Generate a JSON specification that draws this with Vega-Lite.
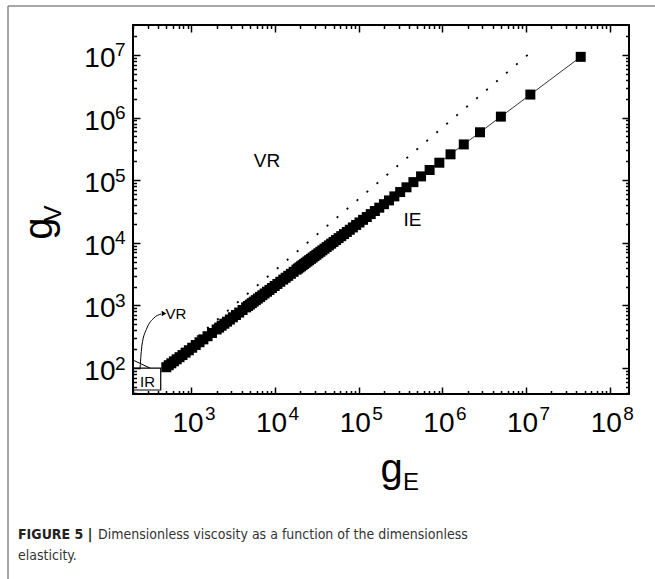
{
  "$schema": "https://vega.github.io/schema/vega-lite/v6.json",
  "width": 496,
  "height": 369,
  "autosize": {"type": "none"},
  "padding": {"left": 133, "top": 25, "right": 26, "bottom": 185},
  "background": "white",
  "config": {
    "view": {"stroke": "black", "strokeWidth": 2},
    "axis": {"domain": false, "grid": false, "labelFont": "Liberation Sans, Arial, sans-serif", "titleFont": "Liberation Sans, Arial, sans-serif", "labelColor": "black", "titleColor": "black", "tickColor": "black", "titleFontWeight": "normal", "labelOverlap": false, "labelFlush": false, "labelBound": false}
  },
  "title": {
    "text": "FIGURE 5 |",
    "subtitle": ["\u200b\u00a0\u00a0\u00a0\u00a0\u00a0\u00a0\u00a0\u00a0\u00a0\u00a0\u00a0\u00a0\u00a0\u00a0\u00a0\u00a0\u00a0\u00a0\u00a0\u00a0Dimensionless viscosity as a function of the dimensionless", "elasticity."],
    "orient": "bottom", "anchor": "start", "frame": "group", "dx": -115, "offset": -52,
    "font": "Liberation Sans Narrow, DejaVu Sans Condensed, sans-serif", "fontSize": 14, "fontWeight": "bold", "color": "#222",
    "subtitleFont": "Liberation Sans Narrow, DejaVu Sans Condensed, sans-serif", "subtitleFontSize": 14, "subtitleColor": "#333", "subtitlePadding": -14, "subtitleLineHeight": 21
  },
  "resolve": {"axis": {"x": "independent", "y": "independent"}},
  "datasets": {
    "main": [
      {"x": 45000000, "y": 9300000}, {"x": 11250000, "y": 2325000}, {"x": 5000000, "y": 1033333}, {"x": 2812500, "y": 581250},
      {"x": 1800000, "y": 372000}, {"x": 1250000, "y": 258333}, {"x": 918367, "y": 189796}, {"x": 703125, "y": 145313},
      {"x": 555556, "y": 114815}, {"x": 450000, "y": 93000}, {"x": 371901, "y": 76860}, {"x": 312500, "y": 64583},
      {"x": 266272, "y": 55030}, {"x": 229592, "y": 47449}, {"x": 200000, "y": 41333}, {"x": 175781, "y": 36328},
      {"x": 155709, "y": 32180}, {"x": 138889, "y": 28704}, {"x": 124654, "y": 25762}, {"x": 112500, "y": 23250},
      {"x": 102041, "y": 21088}, {"x": 92975, "y": 19215}, {"x": 85066, "y": 17580}, {"x": 78125, "y": 16146},
      {"x": 72000, "y": 14880}, {"x": 66568, "y": 13757}, {"x": 61728, "y": 12757}, {"x": 57398, "y": 11862},
      {"x": 53508, "y": 11058}, {"x": 50000, "y": 10333}, {"x": 46826, "y": 9677}, {"x": 43945, "y": 9082}, {"x": 41322, "y": 8540}, {"x": 38927, "y": 8045},
      {"x": 36731, "y": 7591}, {"x": 34722, "y": 7176}, {"x": 32871, "y": 6793}, {"x": 31163, "y": 6440}, {"x": 29586, "y": 6114}, {"x": 28125, "y": 5813},
      {"x": 26769, "y": 5532}, {"x": 25510, "y": 5272}, {"x": 24337, "y": 5030}, {"x": 23244, "y": 4804}, {"x": 22222, "y": 4593}, {"x": 21267, "y": 4395},
      {"x": 20371, "y": 4210}, {"x": 19531, "y": 4036}, {"x": 18742, "y": 3873}, {"x": 18000, "y": 3720},
      {"x": 16642, "y": 3439}, {"x": 15432, "y": 3189}, {"x": 14349, "y": 2966}, {"x": 13377, "y": 2765},
      {"x": 12500, "y": 2583}, {"x": 11531, "y": 2383}, {"x": 10651, "y": 2201}, {"x": 9877, "y": 2041}, {"x": 9184, "y": 1898}, {"x": 8562, "y": 1769}, {"x": 8000, "y": 1653},
      {"x": 7491, "y": 1548}, {"x": 7031, "y": 1453}, {"x": 6612, "y": 1366}, {"x": 6228, "y": 1287}, {"x": 5878, "y": 1215}, {"x": 5556, "y": 1148}, {"x": 5260, "y": 1087}, {"x": 4986, "y": 1030},
      {"x": 4734, "y": 978}, {"x": 4500, "y": 930}, {"x": 4082, "y": 844}, {"x": 3719, "y": 769}, {"x": 3403, "y": 703}, {"x": 3125, "y": 646}, {"x": 2880, "y": 595}, {"x": 2663, "y": 550},
      {"x": 2469, "y": 510}, {"x": 2296, "y": 474}, {"x": 2141, "y": 442}, {"x": 2000, "y": 413}, {"x": 1758, "y": 363}, {"x": 1557, "y": 322},
      {"x": 1389, "y": 287}, {"x": 1247, "y": 258}, {"x": 1125, "y": 233}, {"x": 1020, "y": 211},
      {"x": 930, "y": 192}, {"x": 851, "y": 176}, {"x": 781, "y": 161}, {"x": 720, "y": 149},
      {"x": 666, "y": 138}, {"x": 617, "y": 128}, {"x": 574, "y": 119}, {"x": 535, "y": 111}, {"x": 500, "y": 103}
    ],
    "dot": [{"x": 1170, "y": 316}, {"x": 12000000, "y": 11700000}],
    "big": [{"t": "VR", "x": 8000, "y": 202000}, {"t": "IE", "x": 438000, "y": 23100}],
    "small": [{"t": "VR", "x": 653, "y": 729}, {"t": "IR", "x": 298, "y": 60.5}],
    "box": [{"x": 200, "x2": 429, "y": 100, "y2": 44.6}],
    "curve": [{"x": 243, "y": 100}, {"x": 256, "y": 233}, {"x": 294, "y": 436}, {"x": 356, "y": 630}, {"x": 432, "y": 729}],
    "head": [{"x": 470, "y": 743}],
    "slant": [{"x": 200, "y": 134}, {"x": 319, "y": 100}],
    "frame": [{"x": 6.41, "x2": 6.41, "y": 60300000, "y2": 0.0428}, {"x": 6.41, "x2": 348000000, "y": 60300000, "y2": 60300000}]
  },
  "layer": [
    {
      "data": {"name": "dot"},
      "mark": {"type": "line", "color": "black", "strokeWidth": 1.8, "strokeDash": [2, 11.1]},
      "encoding": {
        "x": {"field": "x", "type": "quantitative", "scale": {"type": "log", "domain": [200, 170000000], "nice": false},
          "axis": {"orient": "bottom", "values": [1000, 10000, 100000, 1000000, 10000000, 100000000], "labelExpr": "'10'", "ticks": false,
            "labelFontSize": 28, "labelAlign": "center", "labelBaseline": "alphabetic", "labelPadding": 37.5, "labelOffset": -4,
            "title": "g", "titleFontSize": 40, "titleAlign": "center", "titleBaseline": "alphabetic", "titleX": 258, "titleY": 87, "titleAngle": 0}},
        "y": {"field": "y", "type": "quantitative", "scale": {"type": "log", "domain": [38.5, 30000000], "nice": false},
          "axis": {"orient": "left", "values": [100, 1000, 10000, 100000, 1000000, 10000000], "labelExpr": "'10'", "ticks": false,
            "labelFontSize": 28, "labelAlign": "right", "labelBaseline": "alphabetic", "labelPadding": 18, "labelOffset": 11.5,
            "title": "g", "titleFontSize": 40, "titleAlign": "center", "titleBaseline": "alphabetic", "titleX": -82, "titleY": 203, "titleAngle": 270}}
      }
    },
    {
      "data": {"name": "main"},
      "mark": {"type": "line", "color": "black", "strokeWidth": 0.8},
      "encoding": {
        "x": {"field": "x", "type": "quantitative", "scale": {"type": "log", "domain": [200, 170000000], "nice": false},
          "axis": {"orient": "bottom", "values": [1000, 10000, 100000, 1000000, 10000000, 100000000], "labelExpr": "format(round(log(datum.value)/LN10), 'd')", "ticks": false,
            "labelFontSize": 19, "labelAlign": "left", "labelBaseline": "alphabetic", "labelPadding": 25.3, "labelOffset": 13,
            "title": "E", "titleFontSize": 24, "titleAlign": "center", "titleBaseline": "alphabetic", "titleX": 277.5, "titleY": 95, "titleAngle": 0}},
        "y": {"field": "y", "type": "quantitative", "scale": {"type": "log", "domain": [38.5, 30000000], "nice": false},
          "axis": {"orient": "left", "values": [100, 1000, 10000, 100000, 1000000, 10000000], "labelExpr": "format(round(log(datum.value)/LN10), 'd')", "ticks": false,
            "labelFontSize": 19, "labelAlign": "right", "labelBaseline": "alphabetic", "labelPadding": 8, "labelOffset": 1,
            "title": "V", "titleFontSize": 24, "titleAlign": "center", "titleBaseline": "alphabetic", "titleX": -73, "titleY": 188, "titleAngle": 270}}
      }
    },
    {
      "data": {"name": "main"},
      "mark": {"type": "point", "shape": "square", "filled": true, "color": "black", "size": 100, "opacity": 1},
      "encoding": {
        "x": {"field": "x", "type": "quantitative", "scale": {"type": "log", "domain": [200, 170000000], "nice": false},
          "axis": {"orient": "bottom", "labels": false, "title": null, "tickWidth": 1.5,
            "values": [200,300,400,500,600,700,800,900,1000,2000,3000,4000,5000,6000,7000,8000,9000,10000,20000,30000,40000,50000,60000,70000,80000,90000,100000,200000,300000,400000,500000,600000,700000,800000,900000,1000000,2000000,3000000,4000000,5000000,6000000,7000000,8000000,9000000,10000000,20000000,30000000,40000000,50000000,60000000,70000000,80000000,90000000,100000000],
            "tickSize": {"condition": {"test": "abs(log(datum.value)/LN10 - round(log(datum.value)/LN10)) < 0.001", "value": -7}, "value": -3.5}}},
        "y": {"field": "y", "type": "quantitative", "scale": {"type": "log", "domain": [38.5, 30000000], "nice": false},
          "axis": {"orient": "left", "labels": false, "title": null, "tickWidth": 1.5,
            "values": [40,50,60,70,80,90,100,200,300,400,500,600,700,800,900,1000,2000,3000,4000,5000,6000,7000,8000,9000,10000,20000,30000,40000,50000,60000,70000,80000,90000,100000,200000,300000,400000,500000,600000,700000,800000,900000,1000000,2000000,3000000,4000000,5000000,6000000,7000000,8000000,9000000,10000000,20000000],
            "tickSize": {"condition": {"test": "abs(log(datum.value)/LN10 - round(log(datum.value)/LN10)) < 0.001", "value": -7}, "value": -3.5}}}
      }
    },
    {
      "data": {"name": "big"},
      "mark": {"type": "text", "font": "Liberation Sans, Arial, sans-serif", "fontSize": 19, "color": "black", "align": "center", "baseline": "middle"},
      "encoding": {
        "x": {"field": "x", "type": "quantitative", "scale": {"type": "log", "domain": [200, 170000000], "nice": false},
          "axis": {"orient": "top", "labels": false, "title": null, "tickWidth": 1.5,
            "values": [200,300,400,500,600,700,800,900,1000,2000,3000,4000,5000,6000,7000,8000,9000,10000,20000,30000,40000,50000,60000,70000,80000,90000,100000,200000,300000,400000,500000,600000,700000,800000,900000,1000000,2000000,3000000,4000000,5000000,6000000,7000000,8000000,9000000,10000000,20000000,30000000,40000000,50000000,60000000,70000000,80000000,90000000,100000000],
            "tickSize": {"condition": {"test": "abs(log(datum.value)/LN10 - round(log(datum.value)/LN10)) < 0.001", "value": -7}, "value": -3.5}}},
        "y": {"field": "y", "type": "quantitative", "scale": {"type": "log", "domain": [38.5, 30000000], "nice": false},
          "axis": {"orient": "right", "labels": false, "title": null, "tickWidth": 1.5,
            "values": [40,50,60,70,80,90,100,200,300,400,500,600,700,800,900,1000,2000,3000,4000,5000,6000,7000,8000,9000,10000,20000,30000,40000,50000,60000,70000,80000,90000,100000,200000,300000,400000,500000,600000,700000,800000,900000,1000000,2000000,3000000,4000000,5000000,6000000,7000000,8000000,9000000,10000000,20000000],
            "tickSize": {"condition": {"test": "abs(log(datum.value)/LN10 - round(log(datum.value)/LN10)) < 0.001", "value": -7}, "value": -3.5}}},
        "text": {"field": "t"}
      }
    },
    {
      "data": {"name": "small"},
      "mark": {"type": "text", "font": "Liberation Sans, Arial, sans-serif", "fontSize": 15, "color": "black", "align": "center", "baseline": "middle"},
      "encoding": {
        "x": {"field": "x", "type": "quantitative", "scale": {"type": "log", "domain": [200, 170000000], "nice": false}, "axis": null},
        "y": {"field": "y", "type": "quantitative", "scale": {"type": "log", "domain": [38.5, 30000000], "nice": false}, "axis": null},
        "text": {"field": "t"}
      }
    },
    {
      "data": {"name": "box"},
      "mark": {"type": "rect", "filled": false, "stroke": "black", "strokeWidth": 1.2},
      "encoding": {
        "x": {"field": "x", "type": "quantitative", "scale": {"type": "log", "domain": [200, 170000000], "nice": false}, "axis": null},
        "x2": {"field": "x2"},
        "y": {"field": "y", "type": "quantitative", "scale": {"type": "log", "domain": [38.5, 30000000], "nice": false}, "axis": null},
        "y2": {"field": "y2"}
      }
    },
    {
      "data": {"name": "curve"},
      "mark": {"type": "line", "color": "black", "strokeWidth": 1, "interpolate": "monotone"},
      "encoding": {
        "x": {"field": "x", "type": "quantitative", "scale": {"type": "log", "domain": [200, 170000000], "nice": false}, "axis": null},
        "y": {"field": "y", "type": "quantitative", "scale": {"type": "log", "domain": [38.5, 30000000], "nice": false}, "axis": null}
      }
    },
    {
      "data": {"name": "head"},
      "mark": {"type": "point", "shape": "triangle-right", "filled": true, "color": "black", "size": 30, "opacity": 1},
      "encoding": {
        "x": {"field": "x", "type": "quantitative", "scale": {"type": "log", "domain": [200, 170000000], "nice": false}, "axis": null},
        "y": {"field": "y", "type": "quantitative", "scale": {"type": "log", "domain": [38.5, 30000000], "nice": false}, "axis": null}
      }
    },
    {
      "data": {"name": "slant"},
      "mark": {"type": "line", "color": "black", "strokeWidth": 1},
      "encoding": {
        "x": {"field": "x", "type": "quantitative", "scale": {"type": "log", "domain": [200, 170000000], "nice": false}, "axis": null},
        "y": {"field": "y", "type": "quantitative", "scale": {"type": "log", "domain": [38.5, 30000000], "nice": false}, "axis": null}
      }
    },
    {
      "data": {"name": "frame"},
      "mark": {"type": "rule", "color": "#8a8a8a", "strokeWidth": 1.5},
      "encoding": {
        "x": {"field": "x", "type": "quantitative", "scale": {"type": "log", "domain": [200, 170000000], "nice": false}, "axis": null},
        "x2": {"field": "x2"},
        "y": {"field": "y", "type": "quantitative", "scale": {"type": "log", "domain": [38.5, 30000000], "nice": false}, "axis": null},
        "y2": {"field": "y2"}
      }
    }
  ]
}
